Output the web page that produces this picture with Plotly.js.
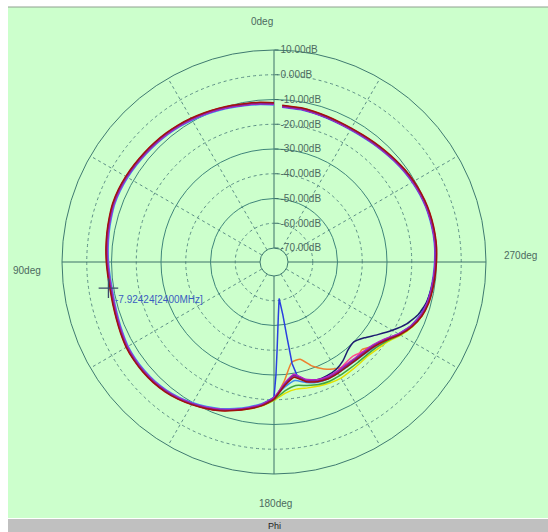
<!DOCTYPE html>
<html><head><meta charset="utf-8">
<script src="https://cdn.plot.ly/plotly-3.0.1.min.js"></script>
<style>html,body{margin:0;padding:0;background:#fff;}#chart{width:548px;height:532px;}</style>
</head><body><div id="chart"></div>
<script>
// angles (deg, phi)
const phi = [0,5,10,15,20,25,30,35,40,45,50,55,60,65,70,75,80,85,90,95,100,105,110,115,
  120,125,130,135,140,145,150,155,160,165,170,175,180,185,190,195,200,205,210,215,220,225,230,235,
  240,245,250,255,260,265,270,275,280,285,290,295,300,305,310,315,320,325,330,335,340,345,350,357];
const phiBlue = [0,5,10,15,20,25,30,35,40,45,50,55,60,65,70,75,80,85,90,95,100,105,110,115,
  120,125,130,135,140,145,150,155,160,165,170,175,180,181,182,184.5,188,189.5,189.8,190.1,191.5,195,
  200,205,210,215,220,225,230,235,240,245,250,255,260,265,270,275,280,285,290,295,300,305,310,315,320,325,330,335,340,345,350,357];

const gainPurple = [-11.6,-11.2,-10.9,-10.4,-9.9,-9.4,-8.9,-8.4,-8.0,-7.7,-7.4,-7.1,
  -6.8,-6.6,-6.6,-7.0,-7.4,-7.8,-8.2,-8.6,-8.8,-8.6,-8.2,-7.6,
  -7.0,-6.8,-6.8,-7.0,-7.5,-8.3,-9.4,-10.6,-12.0,-13.8,-15.6,-17.6,
  -20.5,-26.0,-29.0,-26.0,-24.5,-24.0,-24.2,-24.5,-24.4,-24.0,-23.0,-20.8,
  -17.2,-14.3,-12.3,-11.3,-10.9,-10.6,-10.3,-10.0,-9.9,-9.9,-10.0,-10.3,
  -10.7,-11.2,-11.8,-12.4,-12.9,-13.3,-13.5,-13.5,-13.3,-13.0,-12.7,-12.5];
const gainDarkRed = [-11.3,-10.9,-10.6,-10.1,-9.6,-9.1,-8.6,-8.1,-7.7,-7.4,-7.1,-6.8,
  -6.5,-6.3,-6.3,-6.7,-7.1,-7.5,-7.9,-8.3,-8.5,-8.3,-7.9,-7.3,
  -6.7,-6.5,-6.5,-6.7,-7.2,-8.0,-9.1,-10.3,-11.7,-13.5,-15.3,-17.3,
  -20.2,-25.6,-28.4,-25.6,-24.2,-23.6,-23.8,-24.1,-24.0,-23.6,-22.6,-20.4,
  -16.9,-14.0,-12.0,-11.0,-10.6,-10.3,-10.0,-9.7,-9.6,-9.6,-9.7,-10.0,
  -10.4,-10.9,-11.5,-12.1,-12.6,-13.0,-13.2,-13.2,-13.0,-12.7,-12.4,-12.2];
const gainMagenta = [-11.9,-11.5,-11.2,-10.7,-10.2,-9.7,-9.2,-8.7,-8.3,-8.0,-7.7,-7.4,
  -7.1,-6.9,-6.9,-7.3,-7.7,-8.1,-8.5,-8.9,-9.1,-8.9,-8.5,-7.9,
  -7.3,-7.1,-7.1,-7.3,-7.8,-8.6,-9.7,-10.9,-12.3,-14.1,-15.9,-17.9,
  -20.9,-26.5,-29.6,-26.6,-25.0,-24.5,-24.7,-25.0,-24.9,-24.5,-23.5,-21.3,
  -17.6,-14.6,-12.6,-11.6,-11.2,-10.9,-10.6,-10.3,-10.2,-10.2,-10.3,-10.6,
  -11.0,-11.5,-12.1,-12.7,-13.2,-13.6,-13.8,-13.8,-13.6,-13.3,-13.0,-12.8];
const gainBlue = [-11.7,-11.3,-11.0,-10.5,-10.0,-9.5,-9.0,-8.5,-8.1,-7.8,-7.5,-7.2,
  -6.9,-6.7,-6.7,-7.1,-7.5,-7.9,-8.3,-8.7,-8.9,-8.7,-8.3,-7.7,
  -7.1,-6.9,-6.9,-7.1,-7.6,-8.4,-9.5,-10.7,-12.1,-13.9,-15.7,-17.7,
  -21.0,-30.0,-40.0,-53.5,-60.8,-54.0,-45.0,-34.0,-28.8,-26.3,
  -24.8,-24.3,-24.5,-24.8,-24.7,-24.3,-23.3,-21.1,
  -17.5,-14.6,-12.6,-11.6,-11.1,-10.8,-10.5,-10.2,-10.1,-10.1,-10.2,-10.5,
  -10.9,-11.4,-12.0,-12.6,-13.1,-13.5,-13.7,-13.7,-13.5,-13.2,-12.9,-12.7];
const gainOrange = [-11.5,-11.1,-10.8,-10.3,-9.8,-9.3,-8.8,-8.3,-7.9,-7.6,-7.3,-7.0,
  -6.7,-6.5,-6.5,-6.9,-7.3,-7.7,-8.1,-8.5,-8.7,-8.5,-8.1,-7.5,
  -6.9,-6.7,-6.7,-6.9,-7.4,-8.2,-9.3,-10.5,-11.9,-13.7,-15.5,-17.5,
  -20.5,-27.5,-34.5,-35.0,-31.0,-28.0,-25.8,-24.8,-24.2,-25.5,-22.8,-20.6,
  -17.0,-14.2,-12.2,-11.2,-10.8,-10.5,-10.2,-9.9,-9.8,-9.8,-9.9,-10.2,
  -10.6,-11.1,-11.7,-12.3,-12.8,-13.2,-13.4,-13.4,-13.2,-12.9,-12.6,-12.4];
const gainYellow = [-11.5,-11.1,-10.8,-10.3,-9.8,-9.3,-8.8,-8.3,-7.9,-7.6,-7.3,-7.0,
  -6.7,-6.5,-6.5,-6.9,-7.3,-7.7,-8.1,-8.5,-8.7,-8.5,-8.1,-7.5,
  -6.9,-6.7,-6.7,-6.9,-7.4,-8.2,-9.3,-10.5,-11.9,-13.6,-15.3,-17.2,
  -19.8,-22.5,-23.5,-23.0,-22.3,-21.8,-21.5,-21.8,-22.0,-22.0,-21.0,-19.5,
  -16.5,-13.9,-12.0,-11.1,-10.8,-10.5,-10.2,-9.9,-9.8,-9.8,-9.9,-10.2,
  -10.5,-11.1,-11.7,-12.2,-12.8,-13.1,-13.4,-13.3,-13.2,-12.8,-12.5,-12.4];
const gainGreen = [-11.7,-11.3,-11.0,-10.5,-10.0,-9.5,-9.0,-8.5,-8.1,-7.8,-7.5,-7.2,
  -6.9,-6.7,-6.7,-7.1,-7.5,-7.9,-8.3,-8.7,-8.9,-8.7,-8.3,-7.7,
  -7.1,-6.9,-6.9,-7.1,-7.6,-8.4,-9.5,-10.7,-12.1,-13.8,-15.5,-17.4,
  -20.0,-23.5,-25.0,-24.0,-23.0,-22.5,-22.6,-22.8,-22.8,-22.6,-21.8,-20.0,
  -16.8,-14.1,-12.2,-11.3,-10.9,-10.7,-10.4,-10.1,-10.0,-10.0,-10.1,-10.4,
  -10.8,-11.3,-11.9,-12.5,-13.0,-13.4,-13.6,-13.6,-13.4,-13.1,-12.8,-12.6];
const gainPink = [-11.5,-11.1,-10.8,-10.3,-9.8,-9.3,-8.8,-8.3,-7.9,-7.6,-7.3,-7.0,
  -6.7,-6.5,-6.5,-6.9,-7.3,-7.7,-8.1,-8.5,-8.7,-8.5,-8.1,-7.5,
  -6.9,-6.7,-6.7,-6.9,-7.4,-8.2,-9.3,-10.5,-11.9,-13.7,-15.5,-17.5,
  -20.4,-25.8,-28.8,-25.8,-24.4,-24.0,-24.4,-25.6,-26.0,-24.6,-22.6,-20.6,
  -17.1,-14.2,-12.2,-11.2,-10.8,-10.5,-10.2,-9.9,-9.8,-9.8,-9.9,-10.2,
  -10.6,-11.1,-11.7,-12.3,-12.8,-13.2,-13.4,-13.4,-13.2,-12.9,-12.6,-12.4];
const gainLightBlue = [-12.2,-11.8,-11.5,-11.0,-10.5,-10.0,-9.5,-9.0,-8.6,-8.3,-8.0,-7.7,
  -7.4,-7.2,-7.2,-7.6,-8.0,-8.4,-8.8,-9.2,-9.4,-9.2,-8.8,-8.2,
  -7.6,-7.4,-7.4,-7.6,-8.1,-8.9,-10.0,-11.2,-12.6,-14.4,-16.2,-18.2,
  -21.0,-25.0,-27.0,-25.2,-24.0,-23.6,-23.8,-24.0,-23.9,-23.4,-22.3,-20.2,
  -16.8,-14.5,-12.8,-11.8,-11.4,-11.1,-10.8,-10.5,-10.4,-10.4,-10.5,-10.8,
  -11.2,-11.7,-12.3,-12.9,-13.4,-13.8,-14.0,-14.0,-13.8,-13.5,-13.2,-13.0];
const gainNavy = [-11.8,-11.4,-11.1,-10.6,-10.1,-9.6,-9.1,-8.6,-8.2,-7.9,-7.6,-7.3,
  -6.8,-6.6,-6.6,-7.0,-7.4,-7.8,-8.2,-8.6,-8.8,-8.6,-8.2,-7.6,
  -7.0,-6.8,-6.8,-7.0,-7.5,-8.3,-9.4,-10.6,-12.0,-13.8,-15.6,-17.6,
  -20.6,-26.2,-29.2,-26.3,-25.0,-25.0,-25.5,-27.0,-29.2,-30.0,-28.0,-24.5,
  -20.5,-16.5,-13.6,-12.0,-11.3,-10.8,-10.5,-10.2,-10.1,-10.1,-10.2,-10.5,
  -10.9,-11.4,-12.0,-12.6,-13.1,-13.5,-13.7,-13.7,-13.5,-13.2,-12.9,-12.7];

// marker
const markerPhi = [99];
const markerGain = [-7.92424];
const markerText = '-7.92424[2400MHz]';

// axis labels
const ringVals = [10,0,-10,-20,-30,-40,-50,-60,-70];
const ringText = ['10.00dB','0.00dB','-10.00dB','-20.00dB','-30.00dB','-40.00dB','-50.00dB','-60.00dB','-70.00dB'];
const dashedRings = [0,-20,-40,-60];
const solidRings = [-10,-30,-50,-70];
const dashedSpokes = [30,60,120,150,210,240,300,330];
const solidSpokes = [0,90,180,270];
const angleLabels = ['0deg','90deg','180deg','270deg'];

const W = 548, H = 532;
const cx = 274, cy = 262, R = 212;
const dom = {x:[(cx-R)/W,(cx+R)/W], y:[(H-cy-R)/H,(H-cy+R)/H]};
const hole = 14/R;
const rng = [-70,10];

const series = [
  {r:gainLightBlue, t:phi, c:'#3c8cf0'},
  {r:gainYellow, t:phi, c:'#e2e200'},
  {r:gainGreen, t:phi, c:'#3fa63f'},
  {r:gainOrange, t:phi, c:'#ee7f2e'},
  {r:gainNavy, t:phi, c:'#1c1c70'},
  {r:gainBlue, t:phiBlue, c:'#2a40e0', lin:true},
  {r:gainPink, t:phi, c:'#ff4f8f'},
  {r:gainMagenta, t:phi, c:'#c020c0'},
  {r:gainPurple, t:phi, c:'#7a2a9a'},
  {r:gainDarkRed, t:phi, c:'#a01010'}
];
// empty traces so the two grid-only subplots are created
const traces = [
  {type:'scatterpolar', subplot:'polar', mode:'lines', r:[], theta:[], showlegend:false},
  {type:'scatterpolar', subplot:'polar2', mode:'lines', r:[], theta:[], showlegend:false}
];
series.forEach(s => traces.push({
  type:'scatterpolar', subplot:'polar3', mode:'lines', r:s.r, theta:s.t,
  line:{color:s.c, width:1.5, shape: s.lin ? 'linear' : 'spline', smoothing:0.5},
  hoverinfo:'skip', showlegend:false
}));
traces.push({type:'scatterpolar', subplot:'polar3', mode:'markers', r:markerGain, theta:markerPhi,
  marker:{symbol:'cross-thin', size:14, line:{color:'#3a4a6a', width:1.3}}, showlegend:false});

const gridDash = '#5d8f86', gridSolid = '#3f857a';
const labelColor = '#4d6a60';
const base = {domain:dom, hole:hole, bgcolor:'rgba(0,0,0,0)'};
const ann = (text, x, y, extra) => Object.assign({text:text, x:x/W, y:(H-y)/H, xref:'paper', yref:'paper',
  xanchor:'center', yanchor:'middle', showarrow:false, font:{size:10, color:labelColor}}, extra || {});
const layout = {
  width:W, height:H, margin:{l:0,r:0,t:0,b:0}, paper_bgcolor:'#ffffff', showlegend:false,
  font:{family:'Liberation Sans, Arial, sans-serif', size:10, color:labelColor},
  polar: Object.assign({}, base, {
    radialaxis:{range:rng, angle:90, tickvals:dashedRings, showticklabels:false, ticks:'', showline:false,
      gridcolor:gridDash, griddash:'dot', gridwidth:1},
    angularaxis:{rotation:90, direction:'counterclockwise', tickvals:dashedSpokes, showticklabels:false, ticks:'',
      showline:false, gridcolor:gridDash, griddash:'dot', gridwidth:1}
  }),
  polar2: Object.assign({}, base, {
    radialaxis:{range:rng, angle:90, tickvals:solidRings, showticklabels:false, ticks:'', showline:false,
      gridcolor:gridSolid, gridwidth:1},
    angularaxis:{rotation:90, direction:'counterclockwise', tickvals:solidSpokes, showticklabels:false, ticks:'',
      showline:true, linecolor:'#3f7a70', linewidth:1, gridcolor:'#3d7068', gridwidth:1}
  }),
  polar3: Object.assign({}, base, {
    radialaxis:{range:rng, angle:90, tickvals:ringVals, ticktext:ringText, showgrid:false, showline:false,
      tickangle:90, ticks:'outside', ticklen:4, tickcolor:'#3d7068', tickfont:{size:10, color:labelColor}},
    angularaxis:{rotation:90, direction:'counterclockwise', showgrid:false, showline:false, showticklabels:false, ticks:''}
  }),
  shapes:[
    {type:'rect', xref:'paper', yref:'paper', x0:8/W, x1:1, y0:(H-518)/H, y1:(H-7)/H, fillcolor:'#ccffcc', line:{width:0}, layer:'below'},
    {type:'line', xref:'paper', yref:'paper', x0:8/W, x1:1, y0:(H-7)/H, y1:(H-7)/H, line:{color:'#8fa08f', width:1}, layer:'below'},
    {type:'rect', xref:'paper', yref:'paper', x0:8/W, x1:1, y0:0, y1:(H-519)/H, fillcolor:'#c0c0c0', line:{width:0}, layer:'below'}
  ],
  annotations:[
    ann(angleLabels[0], 262, 21),
    ann(angleLabels[1], 27, 270),
    ann(angleLabels[2], 275, 503),
    ann(angleLabels[3], 520, 255),
    ann('Phi', 274, 525.5, {font:{size:9, color:'#222222'}}),
    ann(markerText, 113, 299, {xanchor:'left', font:{size:10, color:'#3a5ec0'}})
  ]
};
Plotly.newPlot('chart', traces, layout, {staticPlot:true, displayModeBar:false});
</script></body></html>
